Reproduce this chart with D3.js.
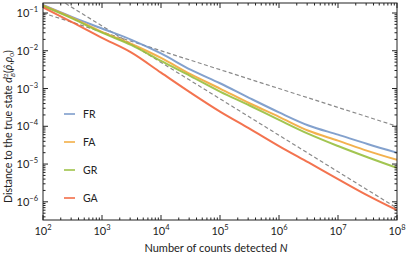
<!DOCTYPE html>
<html>
<head>
<meta charset="utf-8">
<script src="https://cdn.jsdelivr.net/npm/d3@7"></script>
<style>
  body { margin: 0; background: #fff; }
  text { font-family: Lato, "Open Sans", sans-serif; fill: #222; }
</style>
</head>
<body>
<div class="chart"></div>
<script>
// readings taken at decades and half decades of N
const counts = [100, 316, 1000, 3162, 1e4, 31623, 1e5, 316228, 1e6, 3162278, 1e7, 31622777, 1e8];
const FR = [0.163, 0.0776, 0.0389, 0.0195, 0.0085, 0.00316, 0.00138, 5.6e-4, 2.34e-4, 1.05e-4, 6.0e-5, 3.4e-5, 2.0e-5];
const FA = [0.158, 0.0741, 0.0316, 0.0151, 0.00646, 0.0024, 1.0e-3, 4.07e-4, 1.78e-4, 7.6e-5, 4.17e-5, 2.24e-5, 1.29e-5];
const GR = [0.153, 0.0708, 0.0302, 0.0141, 0.00537, 0.00214, 8.3e-4, 3.55e-4, 1.48e-4, 6.3e-5, 3.0e-5, 1.51e-5, 7.9e-6];
const GA = [0.14, 0.0562, 0.0219, 0.0089, 0.00263, 7.8e-4, 2.45e-4, 8.7e-5, 3.0e-5, 1.1e-5, 4.0e-6, 1.48e-6, 6.0e-7];

// reference scalings (dashed)
const boundSqrt = [[100, 0.1], [1e8, 1e-4]];
const boundLinear = [[240, 0.18], [1e8, 6.8e-7]];

const xTicks = [1e2, 1e3, 1e4, 1e5, 1e6, 1e7, 1e8];
const yTicks = [1e-1, 1e-2, 1e-3, 1e-4, 1e-5, 1e-6];

const seriesNames = ['FR', 'FA', 'GR', 'GA'];
const seriesValues = [FR, FA, GR, GA];
const colors = ['#7597c8', '#f2a93b', '#98bf3e', '#f2643c'];

const W = 407, H = 258;
const mLeft = 43, mRight = 397, mTop = 3, mBottom = 220;

const svg = d3.select('.chart').append('svg')
  .attr('width', W)
  .attr('height', H);

const x = d3.scaleLog().domain([1e2, 1e8]).range([mLeft, mRight]);
const y = d3.scaleLog().domain([3.3e-7, 0.184]).range([mBottom, mTop]);

svg.append('clipPath').attr('id', 'plot')
  .append('rect')
    .attr('x', mLeft).attr('y', mTop)
    .attr('width', mRight - mLeft).attr('height', mBottom - mTop);

const plot = svg.append('g').attr('clip-path', 'url(#plot)');

const line = d3.line()
  .x(d => x(d[0]))
  .y(d => y(d[1]))
  .curve(d3.curveMonotoneX);

//dashed guides
[boundSqrt, boundLinear].forEach(b => {
  plot.append('path')
    .attr('d', d3.line().x(d => x(d[0])).y(d => y(d[1]))(b))
    .attr('fill', 'none')
    .attr('stroke', '#8a8a8a')
    .attr('stroke-width', 1.2)
    .attr('stroke-dasharray', '4,2.5');
});

//curves
seriesValues.forEach((vals, i) => {
  plot.append('path')
    .attr('d', line(counts.map((n, j) => [n, vals[j]])))
    .attr('fill', 'none')
    .attr('stroke', colors[i])
    .attr('stroke-width', 2)
    .attr('stroke-opacity', 0.9);
});

//frame
svg.append('rect')
  .attr('x', mLeft).attr('y', mTop)
  .attr('width', mRight - mLeft).attr('height', mBottom - mTop)
  .attr('fill', 'none')
  .attr('stroke', '#222')
  .attr('stroke-width', 1);

//ticks, pointing inwards on all four sides
const minor = (lo, hi) => {
  const out = [];
  for (let e = lo; e < hi; e++)
    for (let k = 2; k <= 9; k++) out.push(k * Math.pow(10, e));
  return out;
};
const xMinor = minor(2, 8);
const yMinor = minor(-7, 0).filter(v => v >= y.domain()[0] && v <= y.domain()[1]);

const axisX = (at, dir) => {
  svg.append('g').selectAll('line').data(xTicks).enter().append('line')
    .attr('x1', d => x(d)).attr('x2', d => x(d))
    .attr('y1', at).attr('y2', at + dir * 5)
    .attr('stroke', '#222');
  svg.append('g').selectAll('line').data(xMinor).enter().append('line')
    .attr('x1', d => x(d)).attr('x2', d => x(d))
    .attr('y1', at).attr('y2', at + dir * 2.5)
    .attr('stroke', '#222');
};
const axisY = (at, dir) => {
  svg.append('g').selectAll('line').data(yTicks).enter().append('line')
    .attr('y1', d => y(d)).attr('y2', d => y(d))
    .attr('x1', at).attr('x2', at + dir * 5)
    .attr('stroke', '#222');
  svg.append('g').selectAll('line').data(yMinor).enter().append('line')
    .attr('y1', d => y(d)).attr('y2', d => y(d))
    .attr('x1', at).attr('x2', at + dir * 2.5)
    .attr('stroke', '#222');
};
axisX(mBottom, -1);
axisX(mTop, 1);
axisY(mLeft, 1);
axisY(mRight, -1);

//tick labels
const expOf = d => Math.round(Math.log10(d));
const xl = svg.append('g').selectAll('text').data(xTicks).enter().append('text')
  .attr('x', d => x(d))
  .attr('y', 235)
  .attr('text-anchor', 'middle')
  .style('font-size', '11px');
xl.append('tspan').text('10');
xl.append('tspan').attr('dy', -5).style('font-size', '7.5px').text(d => expOf(d));

const yl = svg.append('g').selectAll('text').data(yTicks).enter().append('text')
  .attr('x', 38)
  .attr('y', d => y(d) + 4)
  .attr('text-anchor', 'end')
  .style('font-size', '11px');
yl.append('tspan').text('10');
yl.append('tspan').attr('dy', -5).style('font-size', '7.5px').text(d => '\u2212' + Math.abs(expOf(d)));

//axis titles
const xt = svg.append('text')
  .attr('x', 216)
  .attr('y', 252)
  .attr('text-anchor', 'middle')
  .style('font-size', '11px');
xt.append('tspan').text('Number of counts detected ');
xt.append('tspan').style('font-style', 'italic').text('N');

const yt = svg.append('text')
  .attr('transform', 'translate(12,203) rotate(-90)')
  .attr('text-anchor', 'start')
  .style('font-size', '10.5px');
yt.append('tspan').text('Distance to the true state ');
yt.append('tspan').style('font-style', 'italic').text('d');
yt.append('tspan').attr('dy', -4).style('font-size', '6.5px').text('2');
yt.append('tspan').attr('dx', -3.5).attr('dy', 7).style('font-size', '6.5px').style('font-style', 'italic').text('B');
yt.append('tspan').attr('dy', -3).text('(');
yt.append('tspan').style('font-style', 'italic').text('\u03C1\u0302');
yt.append('tspan').text(',');
yt.append('tspan').style('font-style', 'italic').text('\u03C1');
yt.append('tspan').attr('dy', 2).style('font-size', '6.5px').text('0');
yt.append('tspan').attr('dy', -2).text(')');

//legend
const legY = [114, 142, 170, 198];
const leg = svg.append('g').selectAll('g').data(seriesNames).enter().append('g')
  .attr('transform', (d, i) => 'translate(64,' + legY[i] + ')');
leg.append('line')
  .attr('x1', 0).attr('x2', 11)
  .attr('stroke', (d, i) => colors[i])
  .attr('stroke-width', 2)
  .attr('stroke-opacity', 0.75);
leg.append('text')
  .attr('x', 19)
  .attr('y', 4)
  .style('font-size', '10.5px')
  .text(d => d);
</script>
</body>
</html>
